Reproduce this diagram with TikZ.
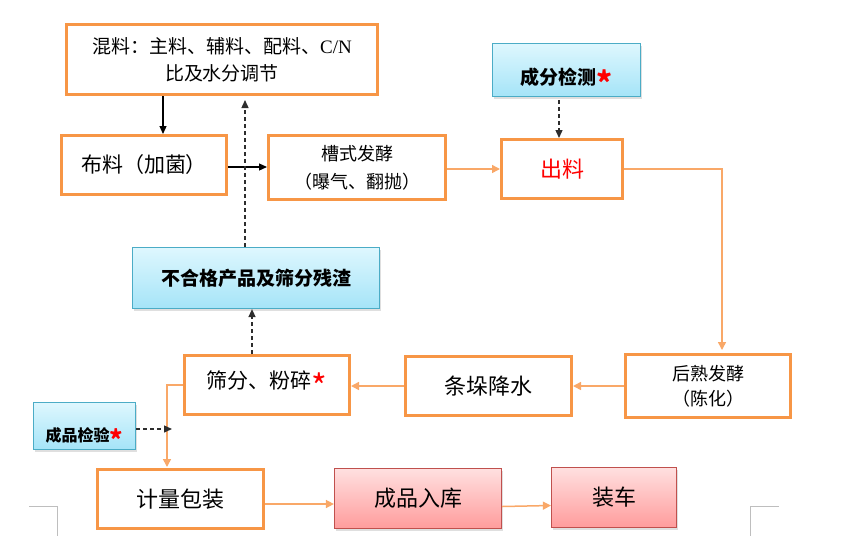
\documentclass[tikz,border=0pt]{standalone}
\usepackage{fontspec}
\setmainfont{Noto Sans CJK SC}
\newfontfamily\latinfont{Liberation Serif}
\usepackage{tikz}
\usetikzlibrary{arrows.meta, positioning, shadows, calc}
\definecolor{BoxOrange}{RGB}{247,150,70}
\definecolor{LineOrange}{RGB}{249,168,104}
\definecolor{BlueEdge}{RGB}{75,172,198}
\definecolor{BlueTop}{RGB}{222,247,254}
\definecolor{BlueBottom}{RGB}{165,228,248}
\definecolor{RedEdge}{RGB}{192,80,77}
\definecolor{RedTop}{RGB}{255,224,224}
\definecolor{RedBottom}{RGB}{255,156,156}
\definecolor{DashGray}{RGB}{45,45,45}
\definecolor{MarkGray}{RGB}{190,190,190}
\newcommand{\fs}[2]{\fontsize{#1}{#2}\selectfont}
\newcommand{\redstar}{\textcolor{red}{\raisebox{-0.55em}{\scalebox{1.6}{*}}}}
\tikzstyle{stepbox} = [draw=BoxOrange, line width=3pt, fill=white, inner sep=0pt, align=center]
\tikzstyle{checkbox} = [draw=BlueEdge, line width=1.2pt, top color=BlueTop, bottom color=BlueBottom, inner sep=0pt, align=center, drop shadow={shadow xshift=1pt, shadow yshift=-2pt, opacity=0.25}]
\tikzstyle{storebox} = [draw=RedEdge, line width=1.2pt, top color=RedTop, bottom color=RedBottom, inner sep=0pt, align=center, drop shadow={shadow xshift=1pt, shadow yshift=-2pt, opacity=0.25}]
\tikzstyle{arrow} = [line width=1.2pt, black, -{Triangle[length=8pt,width=7pt]}]
\tikzstyle{flow} = [line width=1.5pt, LineOrange, -{Triangle[length=8pt,width=8pt]}]
\tikzstyle{dasharrow} = [line width=1.4pt, DashGray, dash pattern=on 4pt off 3pt, -{Triangle[length=8pt,width=7pt]}]
\begin{document}
\begin{tikzpicture}[x=1pt, y=-1pt]
    \useasboundingbox (0,0) rectangle (849,558);

    \node[stepbox, minimum width=311pt, minimum height=70pt, font=\fs{19}{27}] (mix) at (222,59.5) {混料：主料、辅料、配料、{\latinfont C/N}\\比及水分调节};
    \node[stepbox, minimum width=165pt, minimum height=59pt, font=\fs{21}{25}] (bu) at (144,165) {布料（加菌）};
    \node[stepbox, minimum width=177pt, minimum height=64pt, font=\fs{18}{28}] (cao) at (357,167.5) {槽式发酵\\（曝气、翻抛）};
    \node[checkbox, minimum width=148pt, minimum height=53pt, font=\fs{19}{23}\bfseries, text height=28pt, text depth=0pt] (test) at (566.5,70) {成分检测\redstar};
    \node[stepbox, minimum width=121pt, minimum height=59pt, font=\fs{22}{26}, text=red] (chu) at (562,169) {出料};

    \node[stepbox, minimum width=165pt, minimum height=63pt, font=\fs{18}{25}] (houshu) at (708,386) {后熟发酵\\（陈化）};
    \node[stepbox, minimum width=166pt, minimum height=59pt, font=\fs{22}{26}] (tiao) at (488.5,386) {条垛降水};
    \node[stepbox, minimum width=165pt, minimum height=59pt, font=\fs{21}{25}] (shai) at (267,385) {筛分、粉碎\redstar};
    \node[checkbox, minimum width=247pt, minimum height=61pt, font=\fs{19}{23}\bfseries] (buhege) at (256,278) {不合格产品及筛分残渣};
    \node[checkbox, minimum width=102pt, minimum height=47pt, font=\fs{16}{20}\bfseries, text height=30pt, text depth=0pt] (jianyan) at (84.5,426) {成品检验\redstar};

    \node[stepbox, minimum width=166pt, minimum height=59pt, font=\fs{22}{26}] (jiliang) at (180.5,499) {计量包装};
    \node[storebox, minimum width=167pt, minimum height=60pt, font=\fs{22}{26}] (ruku) at (418,498.5) {成品入库};
    \node[storebox, minimum width=125pt, minimum height=60pt, font=\fs{22}{26}] (zhuangche) at (614,497.5) {装车};

    \coordinate (back) at (245,100);
    \coordinate (check) at (172,429);

    \draw[arrow] ([xshift=-59pt]mix.south) -- ([xshift=19pt]bu.north);
    \draw[arrow] ([yshift=-2pt]bu.east) -- ([yshift=-2pt]bu.east -| cao.west);
    \draw[dasharrow] (buhege.north -| back) -- (back);
    \draw[flow] (cao.east |- chu.west) -- (chu.west);
    \draw[dasharrow] ([xshift=-7.5pt,yshift=-3pt]test.south) -- ([xshift=-3pt]chu.north);
    \draw[flow] (chu.east) -| ([xshift=14pt,yshift=3pt]houshu.north);
    \draw[flow] (houshu.west) -- (tiao.east);
    \draw[flow] (tiao.west) -- (tiao.west -| shai.east);
    \draw[dasharrow] ([xshift=-15pt]shai.north) -- ([xshift=-15pt]shai.north |- buhege.south);
    \draw[flow] (shai.west) -| ([xshift=-13.5pt,yshift=1pt]jiliang.north);
    \draw[dasharrow] ([yshift=-3pt]jianyan.east) -- ([yshift=-3pt]jianyan.east -| check);
    \draw[flow] ([yshift=-5pt]jiliang.east) -- ([yshift=-5pt]jiliang.east -| ruku.west);
    \draw[flow] ([yshift=-8pt]ruku.east) -- ([yshift=-8pt]zhuangche.west);

    \draw[MarkGray, line width=0.8pt] (29,506) -- (57,506) -- (57,536);
    \draw[MarkGray, line width=0.8pt] (779,506) -- (750,506) -- (750,536);
\end{tikzpicture}
\end{document}
